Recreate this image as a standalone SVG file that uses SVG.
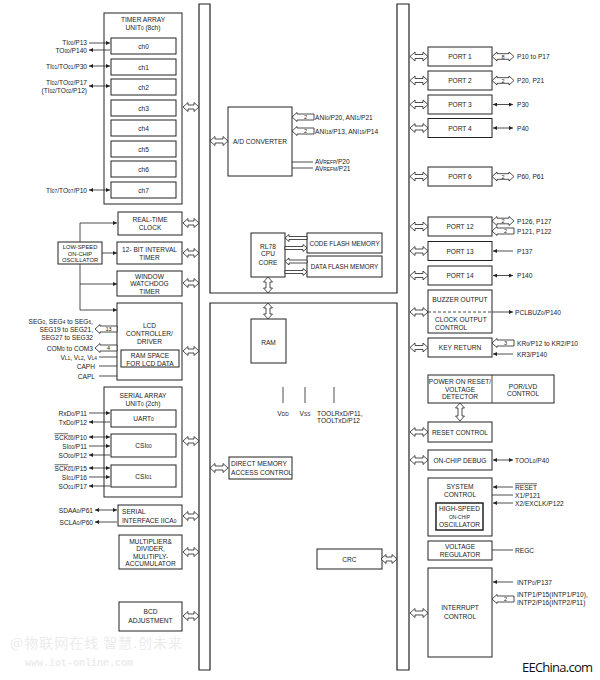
<svg xmlns="http://www.w3.org/2000/svg" width="600" height="680" viewBox="0 0 600 680">
<style>
.b{fill:#fff;stroke:#222;stroke-width:1}
.h{fill:#fff;stroke:#222;stroke-width:0.8}
.l{fill:none;stroke:#222;stroke-width:0.8}
.a1{marker-end:url(#a)}
.a2{marker-start:url(#a);marker-end:url(#a)}
text{font-family:"Liberation Sans",Arial,sans-serif;font-size:6.6px;fill:#222}
.c{text-anchor:middle}
.e{text-anchor:end}
.s{font-size:4.8px}
.n{font-size:5.5px;text-anchor:middle}
.ov{text-decoration:overline}
.wm{fill:#ececec}
</style>
<defs>
<marker id="a" viewBox="0 0 5 5" refX="5" refY="2.5" markerWidth="4" markerHeight="4" markerUnits="userSpaceOnUse" orient="auto-start-reverse"><path d="M0,0 L5,2.5 L0,5 Z" fill="#222"/></marker>
<path id="d16" class="h" d="M0,0 L5,-4.5 L5,-2 L11,-2 L11,-4.5 L16,0 L11,4.5 L11,2 L5,2 L5,4.5 Z"/>
<path id="d18" class="h" d="M0,0 L5,-4.5 L5,-2 L13,-2 L13,-4.5 L18,0 L13,4.5 L13,2 L5,2 L5,4.5 Z"/>
<path id="d22" class="h" d="M0,0 L5,-4.5 L5,-2.8 L17,-2.8 L17,-4.5 L22,0 L17,4.5 L17,2.8 L5,2.8 L5,4.5 Z"/>
<path id="s22" class="h" d="M0,0 L5,-4.5 L5,-3 L22,-3 L22,3 L5,3 L5,4.5 Z"/>
<path id="f22" class="h" d="M0,0 L4,-3.5 L4,-1.5 L22,-1.5 L22,1.5 L4,1.5 L4,3.5 Z"/>
</defs>
<rect width="600" height="680" fill="#fff"/>

<g id="watermark">
<text class="wm" x="10" y="648" style="font-family:'Noto Sans CJK SC',sans-serif;font-size:14px" textLength="172">@物联网在线 智慧.创未来</text>
<text class="wm" x="25" y="666" style="font-family:'Liberation Mono',monospace;font-size:10px;font-weight:bold">www.iot-online.com</text>
</g>

<g id="bus">
<path d="M199,4 H210 V293 H397 V4 H409 V670 H397 V303 H210 V670 H199 Z" fill="none" stroke="#222" stroke-width="1.2"/>
</g>

<!-- left column -->
<g id="timer-array">
<rect class="b" x="104" y="13" width="78" height="191"/>
<text class="c" x="143" y="21.5">TIMER ARRAY</text>
<text class="c" x="143" y="30">UNIT<tspan class="s">0</tspan> (8ch)</text>
</g>
<g id="ch0"><rect class="b" x="111" y="38" width="65" height="16"/><text class="c" x="143.5" y="48.5">ch0</text></g>
<g id="ch1"><rect class="b" x="111" y="59" width="65" height="16"/><text class="c" x="143.5" y="69.5">ch1</text></g>
<g id="ch2"><rect class="b" x="111" y="79" width="65" height="16"/><text class="c" x="143.5" y="89.5">ch2</text></g>
<g id="ch3"><rect class="b" x="111" y="100" width="65" height="16"/><text class="c" x="143.5" y="110.5">ch3</text></g>
<g id="ch4"><rect class="b" x="111" y="120" width="65" height="16"/><text class="c" x="143.5" y="130.5">ch4</text></g>
<g id="ch5"><rect class="b" x="111" y="141" width="65" height="16"/><text class="c" x="143.5" y="151.5">ch5</text></g>
<g id="ch6"><rect class="b" x="111" y="161" width="65" height="16"/><text class="c" x="143.5" y="171.5">ch6</text></g>
<g id="ch7"><rect class="b" x="111" y="182" width="65" height="16"/><text class="c" x="143.5" y="192.5">ch7</text></g>

<g id="rtc"><rect class="b" x="118" y="212" width="64" height="23"/><text class="c" x="150" y="221.5">REAL-TIME</text><text class="c" x="150" y="229.5">CLOCK</text></g>
<g id="lso"><rect class="b" x="58" y="242" width="44" height="22"/>
<text class="c" x="80" y="248.5" style="font-size:5.8px">LOW-SPEED</text><text class="c" x="80" y="255.5" style="font-size:5.8px">ON-CHIP</text><text class="c" x="80" y="262.3" style="font-size:5.8px">OSCILLATOR</text></g>
<g id="interval-timer"><rect class="b" x="117" y="242" width="65" height="22"/><text class="c" x="149.5" y="251.5">12- BIT INTERVAL</text><text class="c" x="149.5" y="259.5">TIMER</text></g>
<g id="wdt"><rect class="b" x="117" y="271" width="65" height="25"/><text class="c" x="149.5" y="278.5">WINDOW</text><text class="c" x="149.5" y="286">WATCHDOG</text><text class="c" x="149.5" y="293.5">TIMER</text></g>
<g id="lcd"><rect class="b" x="117" y="303" width="65" height="77"/>
<text class="c" x="149.5" y="327.5">LCD</text><text class="c" x="149.5" y="335.5">CONTROLLER/</text><text class="c" x="149.5" y="344">DRIVER</text>
<rect class="b" x="121" y="350" width="58" height="17"/><text class="c" x="150" y="357.5">RAM SPACE</text><text class="c" x="150" y="365.5">FOR LCD DATA</text></g>

<g id="serial-array"><rect class="b" x="104" y="387" width="78" height="110"/><text class="c" x="143" y="397.5">SERIAL ARRAY</text><text class="c" x="143" y="405.5">UNIT<tspan class="s">0</tspan> (2ch)</text></g>
<g id="uart0"><rect class="b" x="111" y="410" width="65" height="17"/><text class="c" x="143.5" y="420.5">UART<tspan class="s">0</tspan></text></g>
<g id="csi00"><rect class="b" x="111" y="434" width="65" height="23"/><text class="c" x="143.5" y="448">CSI<tspan class="s">00</tspan></text></g>
<g id="csi01"><rect class="b" x="111" y="465" width="65" height="22"/><text class="c" x="143.5" y="478.5">CSI<tspan class="s">01</tspan></text></g>
<g id="iica0"><rect class="b" x="118" y="505" width="64" height="21"/><text x="122" y="513.5">SERIAL</text><text x="122" y="522.5">INTERFACE IICA<tspan class="s">0</tspan></text></g>
<g id="multiplier"><rect class="b" x="119" y="535" width="63" height="34"/><text class="c" x="150.5" y="543.5">MULTIPLIER&amp;</text><text class="c" x="150.5" y="551">DIVIDER,</text><text class="c" x="150.5" y="558.5">MULITIPLY-</text><text class="c" x="150.5" y="566">ACCUMULATOR</text></g>
<g id="bcd"><rect class="b" x="119" y="602" width="63" height="29"/><text class="c" x="150.5" y="614">BCD</text><text class="c" x="150.5" y="622.5">ADJUSTMENT</text></g>

<!-- middle -->
<g id="adc"><rect class="b" x="228" y="107" width="64" height="69"/><text class="c" x="260" y="143.5">A/D CONVERTER</text></g>
<g id="cpu"><rect class="b" x="251" y="233" width="34" height="44"/><text class="c" x="268" y="248.5">RL78</text><text class="c" x="268" y="256">CPU</text><text class="c" x="268" y="264.5">CORE</text></g>
<g id="code-flash"><rect class="b" x="307" y="233" width="75" height="20"/><text class="c" x="344.5" y="245.5" style="font-size:6.3px">CODE FLASH MEMORY</text></g>
<g id="data-flash"><rect class="b" x="307" y="256" width="75" height="21"/><text class="c" x="344.5" y="269" style="font-size:6.3px">DATA FLASH MEMORY</text></g>
<g id="ram"><rect class="b" x="251" y="319" width="35" height="44"/><text class="c" x="268.5" y="344.5">RAM</text></g>
<g id="dma"><rect class="b" x="229" y="457" width="63" height="22"/><text x="231" y="466">DIRECT MEMORY</text><text x="231" y="475">ACCESS CONTROL</text></g>
<g id="crc"><rect class="b" x="317" y="549" width="65" height="20"/><text class="c" x="349.5" y="561.5">CRC</text></g>

<!-- right column -->
<g id="port1"><rect class="b" x="428" y="47" width="64" height="19"/><text class="c" x="460" y="59">PORT 1</text></g>
<g id="port2"><rect class="b" x="428" y="71" width="64" height="19"/><text class="c" x="460" y="83">PORT 2</text></g>
<g id="port3"><rect class="b" x="428" y="95" width="64" height="19"/><text class="c" x="460" y="107">PORT 3</text></g>
<g id="port4"><rect class="b" x="428" y="118.5" width="64" height="19"/><text class="c" x="460" y="130.5">PORT 4</text></g>
<g id="port6"><rect class="b" x="428" y="167" width="64" height="19"/><text class="c" x="460" y="179">PORT 6</text></g>
<g id="port12"><rect class="b" x="428" y="217" width="64" height="19"/><text class="c" x="460" y="229">PORT 12</text></g>
<g id="port13"><rect class="b" x="428" y="241.5" width="64" height="19"/><text class="c" x="460" y="253.5">PORT 13</text></g>
<g id="port14"><rect class="b" x="428" y="266" width="64" height="19"/><text class="c" x="460" y="278">PORT 14</text></g>
<g id="buzzer"><rect class="b" x="428" y="290" width="64" height="43"/><text class="c" x="460" y="301.5">BUZZER OUTPUT</text><path d="M428,312 H492" fill="none" stroke="#222" stroke-width="0.8" stroke-dasharray="3,2"/><text x="435" y="321.5">CLOCK OUTPUT</text><text x="435" y="329.5">CONTROL</text></g>
<g id="key-return"><rect class="b" x="428" y="338" width="64" height="19"/><text class="c" x="460" y="350">KEY RETURN</text></g>
<g id="por"><rect class="b" x="428" y="375" width="126" height="28"/><path class="l" d="M492,375 V403"/><text class="c" x="460" y="384">POWER ON RESET/</text><text class="c" x="460" y="391.5">VOLTAGE</text><text class="c" x="460" y="399">DETECTOR</text><text class="c" x="523" y="388.5">POR/LVD</text><text class="c" x="523" y="396">CONTROL</text></g>
<g id="reset-control"><rect class="b" x="428" y="422" width="64" height="20"/><text class="c" x="460" y="434.5">RESET CONTROL</text></g>
<g id="debug"><rect class="b" x="428" y="450" width="64" height="20"/><text class="c" x="460" y="462.5">ON-CHIP DEBUG</text></g>
<g id="system-control"><rect class="b" x="428" y="478" width="64" height="58"/><text class="c" x="460" y="488.5">SYSTEM</text><text class="c" x="460" y="496.5">CONTROL</text>
<rect x="436" y="503" width="47" height="27" fill="#fff" stroke="#222" stroke-width="1.5"/><text class="c" x="459.5" y="510.5">HIGH-SPEED</text><text class="c" x="459.5" y="518.5" style="font-size:5px">ON-CHIP</text><text class="c" x="459.5" y="527">OSCILLATOR</text></g>
<g id="regulator"><rect class="b" x="428" y="541" width="64" height="19"/><text class="c" x="460" y="549">VOLTAGE</text><text class="c" x="460" y="557">REGULATOR</text></g>
<g id="interrupt"><rect class="b" x="428" y="568" width="64" height="89"/><text class="c" x="460" y="610">INTERRUPT</text><text class="c" x="460" y="618.5">CONTROL</text></g>

<g id="connectors">
<!-- left bus arrows -->
<use href="#d16" x="183" y="107"/>
<use href="#d16" x="183" y="223"/>
<use href="#d16" x="183" y="253"/>
<use href="#d16" x="183" y="283"/>
<use href="#d16" x="183" y="351"/>
<use href="#d16" x="183" y="441"/>
<use href="#d16" x="183" y="516"/>
<use href="#d16" x="183" y="552"/>
<use href="#d16" x="183" y="616"/>
<use href="#d18" x="210" y="141"/>
<use href="#d18" x="210" y="468"/>
<use href="#d16" x="381" y="559"/>
<use href="#d16" transform="translate(268,277) rotate(90)"/>
<use href="#d16" transform="translate(268,303) rotate(90)"/>
<use href="#d18" transform="translate(460,403) rotate(90)"/>
<use href="#f22" transform="translate(285,238)"/>
<use href="#f22" transform="translate(307,248) scale(-1,1)"/>
<use href="#f22" transform="translate(285,261.5)"/>
<use href="#f22" transform="translate(307,272) scale(-1,1)"/>
<!-- right bus arrows -->
<use href="#d18" x="410" y="56.5"/>
<use href="#d18" x="410" y="80.5"/>
<use href="#d18" x="410" y="104.5"/>
<use href="#d18" x="410" y="128"/>
<use href="#d18" x="410" y="176.5"/>
<use href="#d18" x="410" y="226.5"/>
<use href="#d18" x="410" y="251"/>
<use href="#d18" x="410" y="275.5"/>
<use href="#d18" x="410" y="312"/>
<use href="#d18" x="410" y="347.5"/>
<use href="#d18" x="410" y="432"/>
<use href="#d18" x="410" y="460"/>
<use href="#d18" x="410" y="613"/>
<!-- timer pins -->
<path class="l a1" d="M89,43 H110"/>
<path class="l a1" d="M110,50 H89"/>
<path class="l a2" d="M89,66 H110"/>
<path class="l a2" d="M89,86 H110"/>
<path class="l a2" d="M89,190 H110"/>
<!-- low speed oscillator -->
<path class="l a1" d="M80,242 V223 H117"/>
<path class="l a1" d="M102,253 H117"/>
<path class="l a1" d="M80,264 V310 H117"/>
<path class="l a1" d="M80,284 H117"/>
<!-- LCD -->
<use href="#s22" x="95" y="329"/><text class="n" x="108.5" y="331">13</text>
<use href="#s22" x="95" y="348"/><text class="n" x="108.5" y="350">4</text>
<path class="l" d="M99,357 H117 M99,366 H117 M99,376 H117"/>
<!-- serial -->
<path class="l a1" d="M89,413 H110"/>
<path class="l a1" d="M110,422 H89"/>
<path class="l a2" d="M89,437 H110"/>
<path class="l a1" d="M89,446 H110"/>
<path class="l a1" d="M110,455 H89"/>
<path class="l a2" d="M89,468 H110"/>
<path class="l a1" d="M89,477 H110"/>
<path class="l a1" d="M110,486 H89"/>
<path class="l a2" d="M95,510 H117"/>
<path class="l a1" d="M117,522 H95"/>
<!-- ADC -->
<use href="#s22" x="292" y="117"/><text class="n" x="305.5" y="119">2</text>
<use href="#s22" x="292" y="131"/><text class="n" x="305.5" y="133">2</text>
<path class="l" d="M292,162 H313 M292,168 H313"/>
<!-- power pins -->
<path class="l" d="M283,387 V403 M305,387 V403 M334,387 V403"/>
<!-- right pins -->
<use href="#d22" x="492" y="56.5"/><text class="n" x="503" y="58.5">8</text>
<use href="#d22" x="492" y="80.5"/><text class="n" x="503" y="82.5">2</text>
<path class="l a2" d="M493,104.5 H513"/>
<path class="l a2" d="M493,128 H513"/>
<use href="#d22" x="492" y="176.5"/><text class="n" x="503" y="178.5">2</text>
<use href="#d22" x="492" y="221"/><text class="n" x="503" y="223">2</text>
<use href="#s22" x="492" y="231"/><text class="n" x="505.5" y="233">2</text>
<path class="l a1" d="M513,251 H493"/>
<path class="l a2" d="M493,275.5 H513"/>
<path class="l a1" d="M492,312 H513"/>
<use href="#s22" x="492" y="343"/><text class="n" x="505.5" y="345">3</text>
<path class="l a1" d="M513,354 H493"/>
<path class="l a2" d="M493,460 H513"/>
<path class="l a1" d="M513,487 H493"/>
<path class="l" d="M492,495 H513"/>
<path class="l a1" d="M513,503 H493"/>
<path class="l" d="M492,550 H513"/>
<path class="l a1" d="M513,582 H493"/>
<use href="#s22" x="492" y="599"/><text class="n" x="505.5" y="601">2</text>
</g>

<g id="pin-labels">
<text class="e" x="87" y="45">TI<tspan class="s">00</tspan>/P13</text>
<text class="e" x="87" y="52.5">TO<tspan class="s">00</tspan>/P140</text>
<text class="e" x="87" y="68.5">TI<tspan class="s">01</tspan>/TO<tspan class="s">01</tspan>/P30</text>
<text class="e" x="87" y="84.5">TI<tspan class="s">02</tspan>/TO<tspan class="s">02</tspan>/P17</text>
<text class="e" x="87" y="92.5">(TI<tspan class="s">02</tspan>/TO<tspan class="s">02</tspan>/P12)</text>
<text class="e" x="87" y="192.5">TI<tspan class="s">07</tspan>/TO<tspan class="s">07</tspan>/P10</text>
<text class="e" x="93" y="323.5">SEG<tspan class="s">0</tspan>, SEG<tspan class="s">4</tspan> to SEG<tspan class="s">6</tspan>,</text>
<text class="e" x="93" y="331.5">SEG19 to SEG21,</text>
<text class="e" x="93" y="339.5">SEG27 to SEG32</text>
<text class="e" x="93" y="350.5">COM<tspan class="s">0</tspan> to COM3</text>
<text class="e" x="97" y="359.5">V<tspan class="s">L1</tspan>, V<tspan class="s">L2</tspan>, V<tspan class="s">L4</tspan></text>
<text class="e" x="95" y="368.5">CAPH</text>
<text class="e" x="95" y="378.5">CAPL</text>
<text class="e" x="87" y="415.5">RxD<tspan class="s">0</tspan>/P11</text>
<text class="e" x="87" y="424.5">TxD<tspan class="s">0</tspan>/P12</text>
<text class="e" x="87" y="439.5"><tspan class="ov">SCK<tspan class="s">00</tspan></tspan>/P10</text>
<text class="e" x="87" y="448.5">SI<tspan class="s">00</tspan>/P11</text>
<text class="e" x="87" y="457.5">SO<tspan class="s">00</tspan>/P12</text>
<text class="e" x="87" y="470.5"><tspan class="ov">SCK<tspan class="s">01</tspan></tspan>/P15</text>
<text class="e" x="87" y="479.5">SI<tspan class="s">01</tspan>/P16</text>
<text class="e" x="87" y="488.5">SO<tspan class="s">01</tspan>/P17</text>
<text class="e" x="93" y="512.5">SDAA<tspan class="s">0</tspan>/P61</text>
<text class="e" x="93" y="524.5">SCLA<tspan class="s">0</tspan>/P60</text>
<text x="315" y="119.5">ANI<tspan class="s">0</tspan>/P20, ANI<tspan class="s">1</tspan>/P21</text>
<text x="315" y="133.5">ANI<tspan class="s">18</tspan>/P13, ANI<tspan class="s">19</tspan>/P14</text>
<text x="315" y="163.5">AV<tspan class="s">REFP</tspan>/P20</text>
<text x="315" y="170.5">AV<tspan class="s">REFM</tspan>/P21</text>
<text class="c" x="283" y="415.5">V<tspan class="s">DD</tspan></text>
<text class="c" x="305" y="415.5">V<tspan class="s">SS</tspan></text>
<text x="317" y="415.5">TOOLRxD/P11,</text>
<text x="317" y="422.5">TOOLTxD/P12</text>
<text x="517" y="59">P10 to P17</text>
<text x="517" y="83">P20, P21</text>
<text x="517" y="107">P30</text>
<text x="517" y="130.5">P40</text>
<text x="517" y="179">P60, P61</text>
<text x="517" y="223.5">P126, P127</text>
<text x="517" y="233.5">P121, P122</text>
<text x="517" y="253.5">P137</text>
<text x="517" y="278">P140</text>
<text x="515" y="314.5">PCLBUZ<tspan class="s">0</tspan>/P140</text>
<text x="517" y="345.5">KR<tspan class="s">0</tspan>/P12 to KR2/P10</text>
<text x="517" y="356.5">KR3/P140</text>
<text x="515" y="462.5">TOOL<tspan class="s">0</tspan>/P40</text>
<text x="515" y="489.5" class="ov">RESET</text>
<text x="515" y="497.5">X1/P121</text>
<text x="515" y="505.5">X2/EXCLK/P122</text>
<text x="515" y="552.5">REGC</text>
<text x="517" y="584.5">INTP<tspan class="s">0</tspan>/P137</text>
<text x="517" y="596.5">INTP1/P15(INTP1/P10),</text>
<text x="517" y="604.5">INTP2/P16(INTP2/P11)</text>
</g>

<text x="522" y="672" style="font-family:'Open Sans','Liberation Sans',sans-serif;font-size:13px;fill:#111" textLength="71">EEChina.com</text>
</svg>
